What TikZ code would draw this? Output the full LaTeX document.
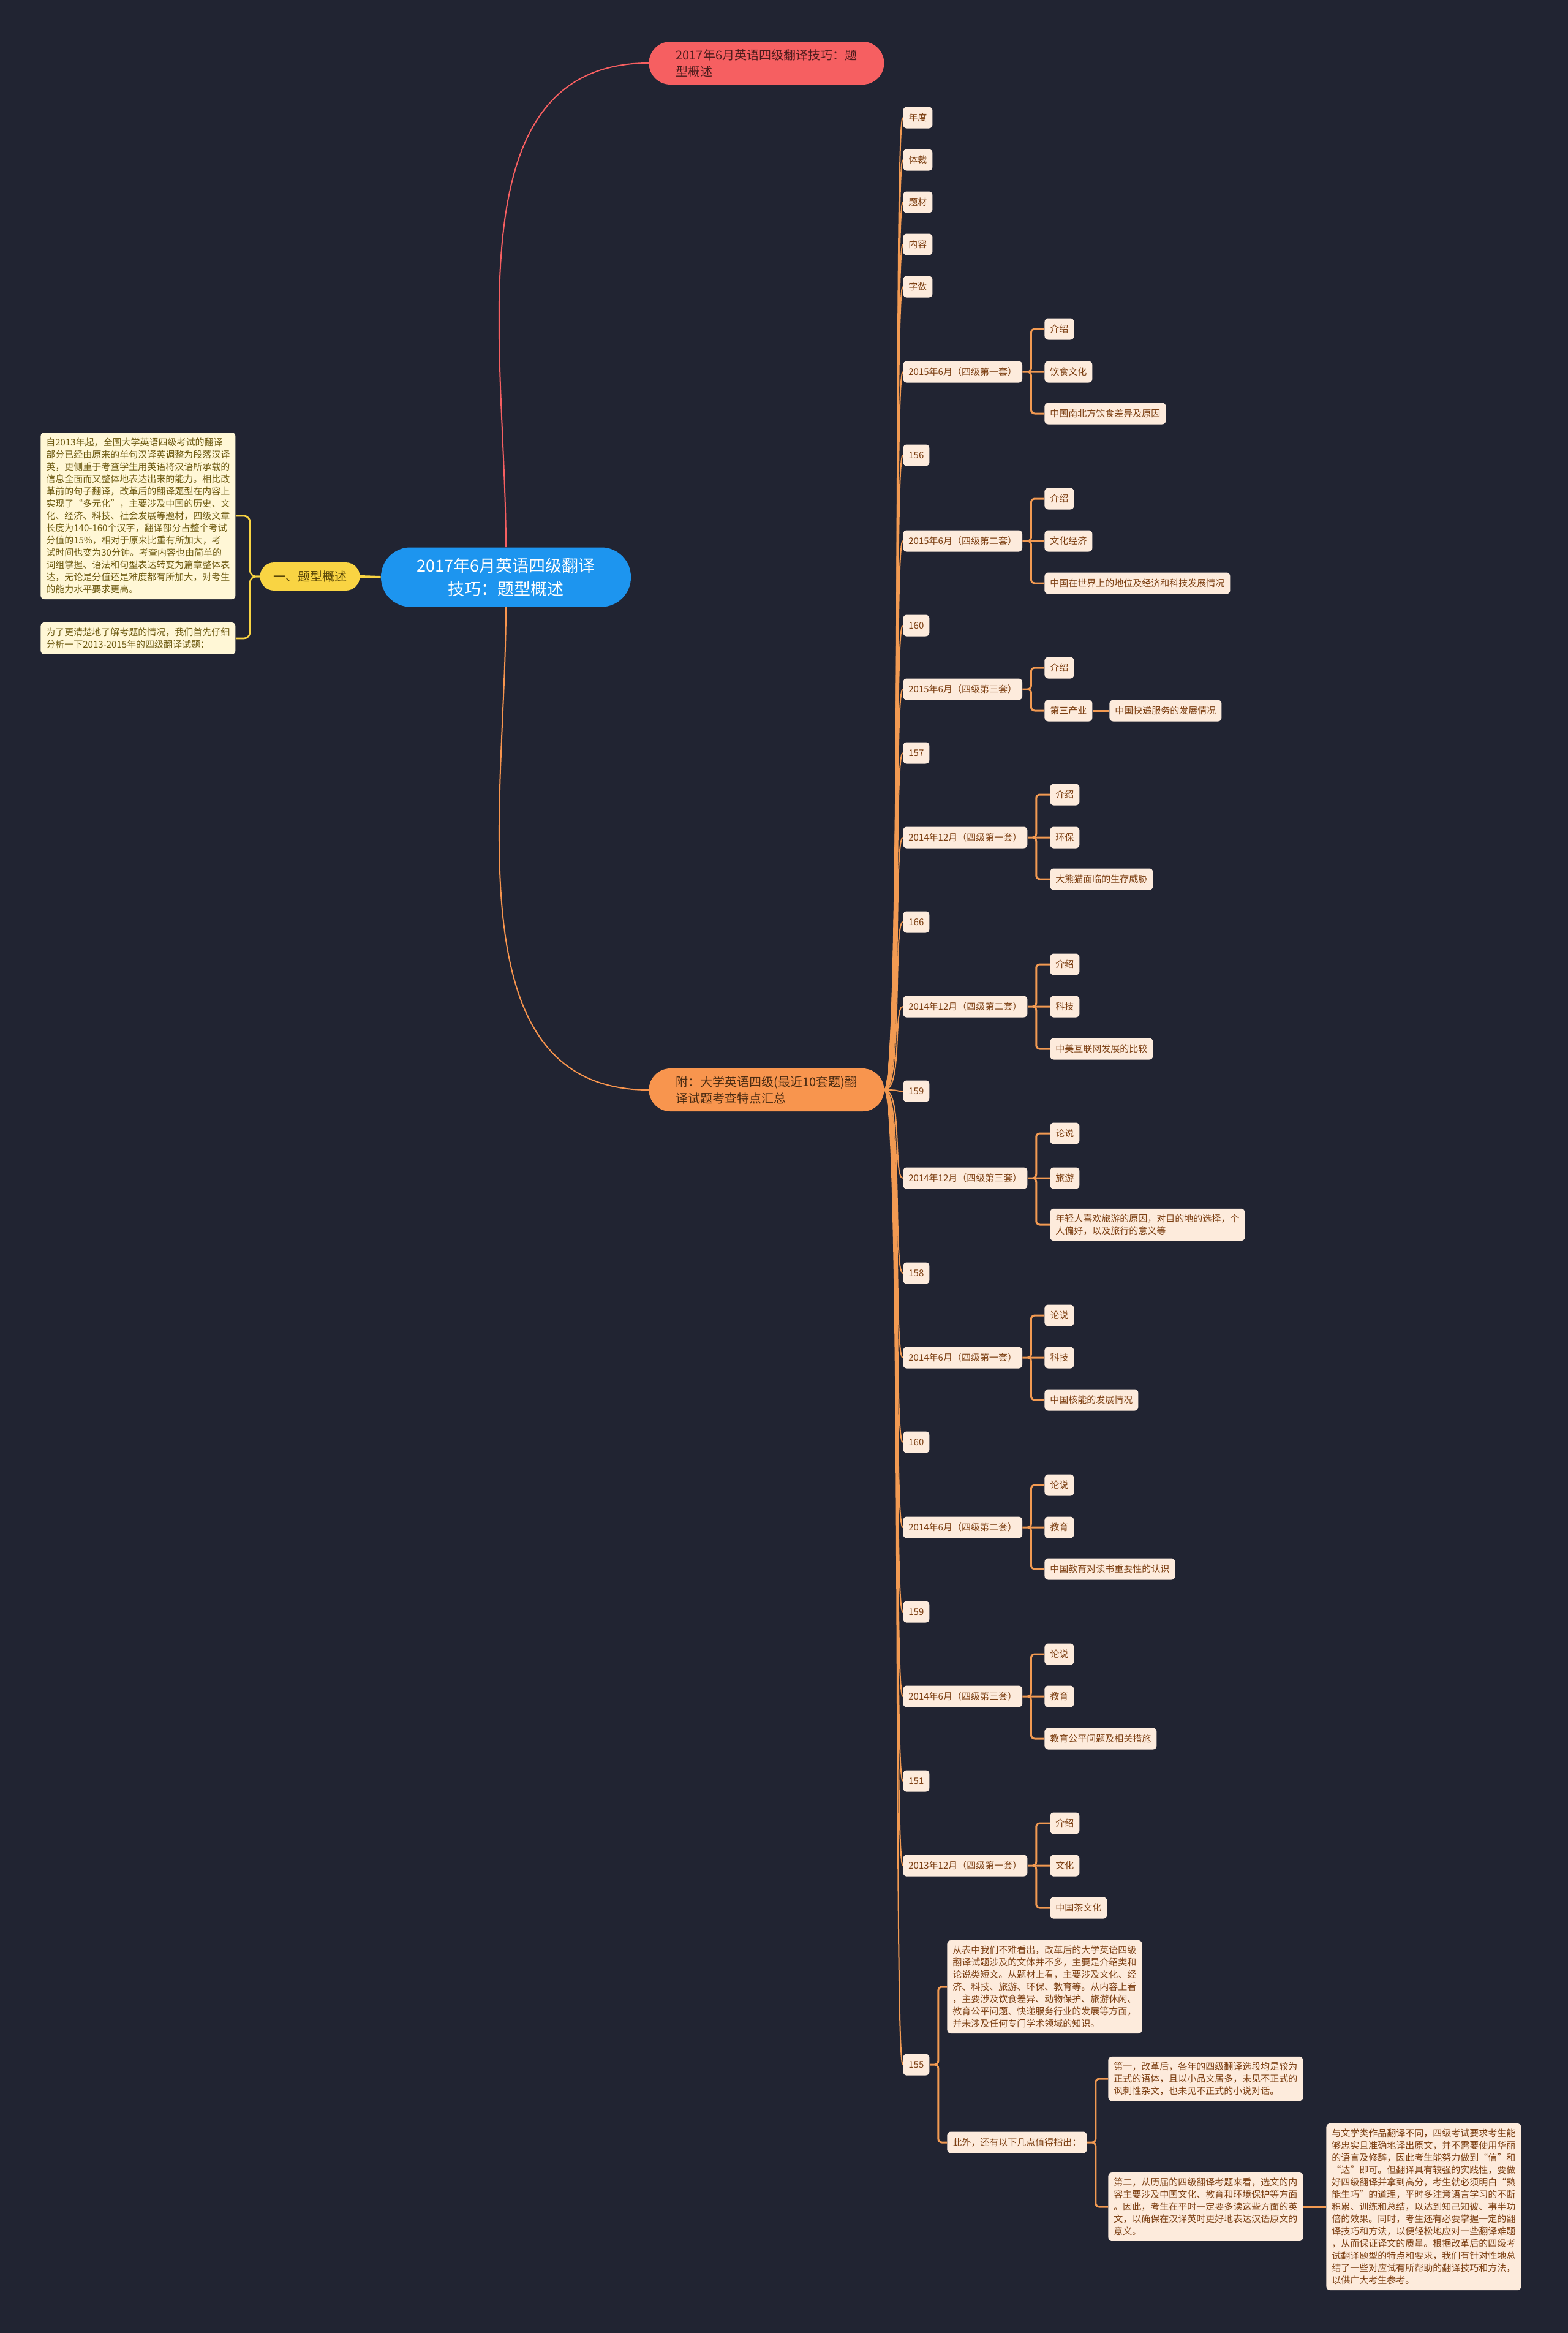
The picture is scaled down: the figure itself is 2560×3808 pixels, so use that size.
\documentclass[tikz,border=0pt]{standalone}
\usepackage{fontspec}
\setmainfont{Noto Sans CJK SC}
\usepackage{tikz}
\usetikzlibrary{arrows}
\definecolor{bgc}{HTML}{212432}
\definecolor{rootc}{HTML}{1D95EF}
\definecolor{titlec}{HTML}{F65F61}
\definecolor{titletxt}{HTML}{4D1C1C}
\definecolor{sumc}{HTML}{F8954E}
\definecolor{sumtxt}{HTML}{4A2B12}
\definecolor{subc}{HTML}{F9D443}
\definecolor{subtxt}{HTML}{5A4708}
\definecolor{leafc}{HTML}{FDEBDC}
\definecolor{leaftxt}{HTML}{7C3F12}
\definecolor{linec}{HTML}{F29A52}
\definecolor{ynotec}{HTML}{FFF7D6}
\definecolor{ynotetxt}{HTML}{6E5B12}
\tikzset{
 root/.style={fill=rootc,text=white,rounded corners=24pt,minimum width=204pt,minimum height=48.5pt,align=center,font=\fontsize{13.5}{19}\selectfont},
 topic/.style={anchor=west,rounded corners=17.5pt,minimum width=192pt,minimum height=35pt,align=left,font=\fontsize{10}{13.5}\selectfont},
 sub/.style={fill=subc,text=subtxt,rounded corners=11.5pt,minimum width=81.5pt,minimum height=23pt,font=\fontsize{10}{13.5}\selectfont},
 leaf/.style={anchor=west,fill=leafc,text=leaftxt,rounded corners=3pt,inner xsep=4.5pt,inner ysep=4.5pt,minimum height=17.5pt,align=left,font=\fontsize{7.5}{10}\selectfont},
 ynote/.style={leaf,fill=ynotec,text=ynotetxt},
 trunk/.style={draw=linec,line width=1pt,out=0,in=180,out distance=15pt,in distance=8pt},
 branch/.style={draw=linec,line width=1.5pt,rounded corners=3pt},
 yline/.style={draw=subc,line width=1.3pt,rounded corners=5pt}
}
\begin{document}
\begin{tikzpicture}[x=0.5pt,y=-0.5pt]
 \fill[bgc] (0,0) rectangle (2560,3808);
 \node[root] (root) at (826,942) {2017年6月英语四级翻译\\技巧：题型概述};
 \node[topic,fill=titlec,text=titletxt] (title) at (1059,103) {2017年6月英语四级翻译技巧：题\\型概述};
 \node[topic,fill=sumc,text=sumtxt] (sum) at (1059,1779) {附：大学英语四级(最近10套题)翻\\译试题考查特点汇总};
 \node[sub] (intro) at (506,941) {一、题型概述};
 \node[ynote] (intro1) at (66,842) {自2013年起，全国大学英语四级考试的翻译\\部分已经由原来的单句汉译英调整为段落汉译\\英，更侧重于考查学生用英语将汉语所承载的\\信息全面而又整体地表达出来的能力。相比改\\革前的句子翻译，改革后的翻译题型在内容上\\实现了“多元化”，主要涉及中国的历史、文\\化、经济、科技、社会发展等题材，四级文章\\长度为140-160个汉字，翻译部分占整个考试\\分值的15\%，相对于原来比重有所加大，考\\试时间也变为30分钟。考查内容也由简单的\\词组掌握、语法和句型表达转变为篇章整体表\\达，无论是分值还是难度都有所加大，对考生\\的能力水平要求更高。};
 \node[ynote] (intro2) at (66,1042) {为了更清楚地了解考题的情况，我们首先仔细\\分析一下2013-2015年的四级翻译试题：};
 \draw[draw=titlec,line width=1pt] (root.north) to[out=90,in=180] (title.west);
 \draw[draw=sumc,line width=1pt] (root.south) to[out=-90,in=180] (sum.west);
 \draw[yline,line width=2pt] (root.west) -- (intro.east);
 \draw[yline] (intro.west) -- ++(-8pt,0) |- (intro1.east);
 \draw[yline] (intro.west) -- ++(-8pt,0) |- (intro2.east);

 \node[leaf] (hdYear) at (1474,192) {年度};
 \node[leaf] (hdGenre) at (1474,261) {体裁};
 \node[leaf] (hdTheme) at (1474,330) {题材};
 \node[leaf] (hdContent) at (1474,399) {内容};
 \node[leaf] (hdCount) at (1474,468) {字数};
 \node[leaf] (s15a) at (1474,607) {2015年6月（四级第一套）};
 \node[leaf] (s15a1) at (1705,537) {介绍};
 \node[leaf] (s15a2) at (1705,607) {饮食文化};
 \node[leaf] (s15a3) at (1705,675) {中国南北方饮食差异及原因};
 \node[leaf] (w156) at (1474,743) {156};
 \node[leaf] (s15b) at (1474,883) {2015年6月（四级第二套）};
 \node[leaf] (s15b1) at (1705,814) {介绍};
 \node[leaf] (s15b2) at (1705,883) {文化经济};
 \node[leaf] (s15b3) at (1705,952) {中国在世界上的地位及经济和科技发展情况};
 \node[leaf] (w160a) at (1474,1021) {160};
 \node[leaf] (s15c) at (1474,1125) {2015年6月（四级第三套）};
 \node[leaf] (s15c1) at (1705,1090) {介绍};
 \node[leaf] (s15c2) at (1705,1160) {第三产业};
 \node[leaf] (s15c3) at (1811,1160) {中国快递服务的发展情况};
 \node[leaf] (w157) at (1474,1229) {157};
 \node[leaf] (s14d1) at (1474,1367) {2014年12月（四级第一套）};
 \node[leaf] (s14d11) at (1714,1297) {介绍};
 \node[leaf] (s14d12) at (1714,1367) {环保};
 \node[leaf] (s14d13) at (1714,1435) {大熊猫面临的生存威胁};
 \node[leaf] (w166) at (1474,1505) {166};
 \node[leaf] (s14d2) at (1474,1643) {2014年12月（四级第二套）};
 \node[leaf] (s14d21) at (1714,1574) {介绍};
 \node[leaf] (s14d22) at (1714,1643) {科技};
 \node[leaf] (s14d23) at (1714,1712) {中美互联网发展的比较};
 \node[leaf] (w159a) at (1474,1781) {159};
 \node[leaf] (s14d3) at (1474,1923) {2014年12月（四级第三套）};
 \node[leaf] (s14d31) at (1714,1850) {论说};
 \node[leaf] (s14d32) at (1714,1923) {旅游};
 \node[leaf] (s14d33) at (1714,1999) {年轻人喜欢旅游的原因，对目的地的选择，个\\人偏好，以及旅行的意义等};
 \node[leaf] (w158) at (1474,2078) {158};
 \node[leaf] (s14j1) at (1474,2216) {2014年6月（四级第一套）};
 \node[leaf] (s14j11) at (1705,2147) {论说};
 \node[leaf] (s14j12) at (1705,2216) {科技};
 \node[leaf] (s14j13) at (1705,2285) {中国核能的发展情况};
 \node[leaf] (w160b) at (1474,2354) {160};
 \node[leaf] (s14j2) at (1474,2493) {2014年6月（四级第二套）};
 \node[leaf] (s14j21) at (1705,2424) {论说};
 \node[leaf] (s14j22) at (1705,2493) {教育};
 \node[leaf] (s14j23) at (1705,2561) {中国教育对读书重要性的认识};
 \node[leaf] (w159b) at (1474,2631) {159};
 \node[leaf] (s14j3) at (1474,2769) {2014年6月（四级第三套）};
 \node[leaf] (s14j31) at (1705,2700) {论说};
 \node[leaf] (s14j32) at (1705,2769) {教育};
 \node[leaf] (s14j33) at (1705,2838) {教育公平问题及相关措施};
 \node[leaf] (w151) at (1474,2907) {151};
 \node[leaf] (s13d) at (1474,3045) {2013年12月（四级第一套）};
 \node[leaf] (s13d1) at (1714,2976) {介绍};
 \node[leaf] (s13d2) at (1714,3045) {文化};
 \node[leaf] (s13d3) at (1714,3114) {中国茶文化};
 \node[leaf] (w155) at (1474,3370) {155};
 \node[leaf] (sumup) at (1546,3243) {从表中我们不难看出，改革后的大学英语四级\\翻译试题涉及的文体并不多，主要是介绍类和\\论说类短文。从题材上看，主要涉及文化、经\\济、科技、旅游、环保、教育等。从内容上看\\，主要涉及饮食差异、动物保护、旅游休闲、\\教育公平问题、快递服务行业的发展等方面，\\并未涉及任何专门学术领域的知识。};
 \node[leaf] (besides) at (1546,3497) {此外，还有以下几点值得指出：};
 \node[leaf] (pt1) at (1809,3393) {第一，改革后，各年的四级翻译选段均是较为\\正式的语体，且以小品文居多，未见不正式的\\讽刺性杂文，也未见不正式的小说对话。};
 \node[leaf] (pt2) at (1809,3602) {第二，从历届的四级翻译考题来看，选文的内\\容主要涉及中国文化、教育和环境保护等方面\\。因此，考生在平时一定要多读这些方面的英\\文，以确保在汉译英时更好地表达汉语原文的\\意义。};
 \node[leaf] (pt3) at (2165,3602) {与文学类作品翻译不同，四级考试要求考生能\\够忠实且准确地译出原文，并不需要使用华丽\\的语言及修辞，因此考生能努力做到“信”和\\“达”即可。但翻译具有较强的实践性，要做\\好四级翻译并拿到高分，考生就必须明白“熟\\能生巧”的道理，平时多注意语言学习的不断\\积累、训练和总结，以达到知己知彼、事半功\\倍的效果。同时，考生还有必要掌握一定的翻\\译技巧和方法，以便轻松地应对一些翻译难题\\，从而保证译文的质量。根据改革后的四级考\\试翻译题型的特点和要求，我们有针对性地总\\结了一些对应试有所帮助的翻译技巧和方法，\\以供广大考生参考。};

 \draw[trunk] (sum.east) to (hdYear.west);
 \draw[trunk] (sum.east) to (hdGenre.west);
 \draw[trunk] (sum.east) to (hdTheme.west);
 \draw[trunk] (sum.east) to (hdContent.west);
 \draw[trunk] (sum.east) to (hdCount.west);
 \draw[trunk] (sum.east) to (s15a.west);
 \draw[trunk] (sum.east) to (w156.west);
 \draw[trunk] (sum.east) to (s15b.west);
 \draw[trunk] (sum.east) to (w160a.west);
 \draw[trunk] (sum.east) to (s15c.west);
 \draw[trunk] (sum.east) to (w157.west);
 \draw[trunk] (sum.east) to (s14d1.west);
 \draw[trunk] (sum.east) to (w166.west);
 \draw[trunk] (sum.east) to (s14d2.west);
 \draw[trunk] (sum.east) to (w159a.west);
 \draw[trunk] (sum.east) to (s14d3.west);
 \draw[trunk] (sum.east) to (w158.west);
 \draw[trunk] (sum.east) to (s14j1.west);
 \draw[trunk] (sum.east) to (w160b.west);
 \draw[trunk] (sum.east) to (s14j2.west);
 \draw[trunk] (sum.east) to (w159b.west);
 \draw[trunk] (sum.east) to (s14j3.west);
 \draw[trunk] (sum.east) to (w151.west);
 \draw[trunk] (sum.east) to (s13d.west);
 \draw[trunk] (sum.east) to (w155.west);

 \draw[branch] (s15a.east) -- ++(7pt,0) |- (s15a1.west) (s15a.east) -- (s15a2.west) (s15a.east) -- ++(7pt,0) |- (s15a3.west);
 \draw[branch] (s15b.east) -- ++(7pt,0) |- (s15b1.west) (s15b.east) -- (s15b2.west) (s15b.east) -- ++(7pt,0) |- (s15b3.west);
 \draw[branch] (s15c.east) -- ++(7pt,0) |- (s15c1.west) (s15c.east) -- ++(7pt,0) |- (s15c2.west);
 \draw[branch] (s15c2.east) -- (s15c3.west);
 \draw[branch] (s14d1.east) -- ++(7pt,0) |- (s14d11.west) (s14d1.east) -- (s14d12.west) (s14d1.east) -- ++(7pt,0) |- (s14d13.west);
 \draw[branch] (s14d2.east) -- ++(7pt,0) |- (s14d21.west) (s14d2.east) -- (s14d22.west) (s14d2.east) -- ++(7pt,0) |- (s14d23.west);
 \draw[branch] (s14d3.east) -- ++(7pt,0) |- (s14d31.west) (s14d3.east) -- (s14d32.west) (s14d3.east) -- ++(7pt,0) |- (s14d33.west);
 \draw[branch] (s14j1.east) -- ++(7pt,0) |- (s14j11.west) (s14j1.east) -- (s14j12.west) (s14j1.east) -- ++(7pt,0) |- (s14j13.west);
 \draw[branch] (s14j2.east) -- ++(7pt,0) |- (s14j21.west) (s14j2.east) -- (s14j22.west) (s14j2.east) -- ++(7pt,0) |- (s14j23.west);
 \draw[branch] (s14j3.east) -- ++(7pt,0) |- (s14j31.west) (s14j3.east) -- (s14j32.west) (s14j3.east) -- ++(7pt,0) |- (s14j33.west);
 \draw[branch] (s13d.east) -- ++(7pt,0) |- (s13d1.west) (s13d.east) -- (s13d2.west) (s13d.east) -- ++(7pt,0) |- (s13d3.west);
 \draw[branch] (w155.east) -- ++(7pt,0) |- (sumup.west) (w155.east) -- ++(7pt,0) |- (besides.west);
 \draw[branch] (besides.east) -- ++(7pt,0) |- (pt1.west) (besides.east) -- ++(7pt,0) |- (pt2.west);
 \draw[branch] (pt2.east) -- (pt3.west);
\end{tikzpicture}
\end{document}
